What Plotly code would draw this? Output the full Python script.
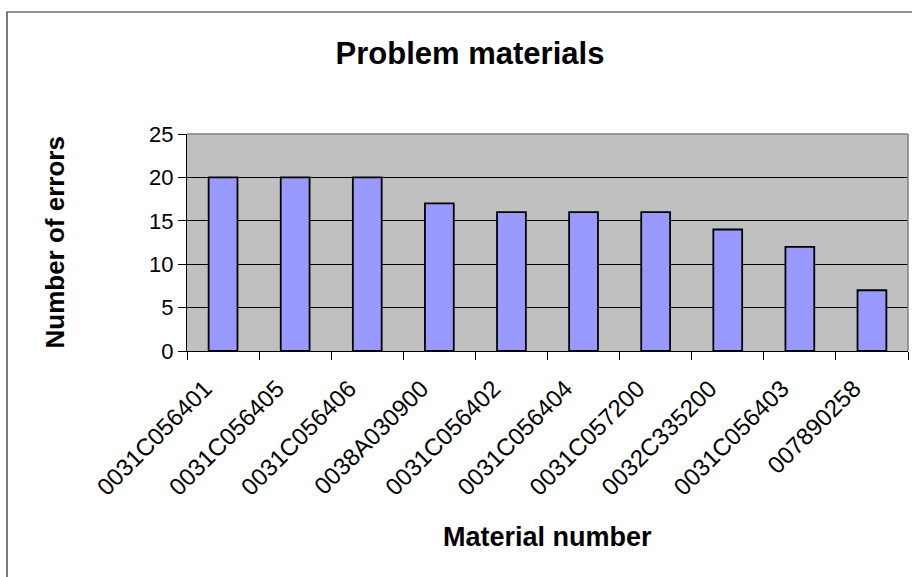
import plotly.graph_objects as go

materials = ["0031C056401", "0031C056405", "0031C056406", "0038A030900", "0031C056402",
             "0031C056404", "0031C057200", "0032C335200", "0031C056403", "007890258"]
errors = [20, 20, 20, 17, 16, 16, 16, 14, 12, 7]
y_ticks = [0, 5, 10, 15, 20, 25]

W, H = 912, 577
L, R, T, B = 187, 4, 134, 226
pw = W - L - R
ph = H - T - B

FONT = "Liberation Sans, Arial, sans-serif"

fig = go.Figure(go.Bar(
    x=materials, y=errors,
    marker=dict(color="#9999FF", line=dict(color="black", width=1.8)),
    width=0.4,
))

fig.update_layout(
    width=W, height=H,
    margin=dict(l=L, r=R, t=T, b=B, autoexpand=False),
    paper_bgcolor="white",
    plot_bgcolor="#C0C0C0",
    showlegend=False,
    font=dict(family=FONT, color="black"),
    title=dict(text="<b>Problem materials</b>", font=dict(size=31, family=FONT),
               x=470 / W, xref="container", xanchor="center",
               y=1 - 53 / H, yref="container", yanchor="middle"),
    xaxis=dict(type="category", tickson="boundaries", ticks="outside", ticklen=8,
               tickcolor="black", tickwidth=1, showline=True, linecolor="black", linewidth=1,
               tickangle=-45, tickfont=dict(size=24, family=FONT), showgrid=False,
               ticklabelstandoff=13, ticklabelshift=-18,
               automargin=False),
    yaxis=dict(range=[0, 25], tickvals=y_ticks, ticks="outside", ticklen=8,
               tickcolor="black", tickwidth=1, showline=True, linecolor="black", linewidth=1,
               showgrid=True, gridcolor="black", gridwidth=1, zeroline=False,
               tickfont=dict(size=22, family=FONT), automargin=False),
    annotations=[
        dict(text="<b>Number of errors</b>", textangle=-90, showarrow=False,
             xref="paper", yref="paper", x=(54 - L) / pw, y=0.5,
             xanchor="center", yanchor="middle", font=dict(size=26, family=FONT)),
        dict(text="<b>Material number</b>", showarrow=False,
             xref="paper", yref="paper", x=0.5, y=-(537 - (T + ph)) / ph,
             xanchor="center", yanchor="middle", font=dict(size=27, family=FONT)),
    ],
    shapes=[
        # outer chart-area border
        dict(type="rect", xref="paper", yref="paper",
             x0=(7 - L) / pw, x1=(W + 30 - L) / pw,
             y0=-(H + 30 - T - ph) / ph, y1=(T + ph - 12) / ph,
             line=dict(color="#222222", width=1.2), layer="below"),
        # plot-area border (top and right)
        dict(type="line", xref="paper", yref="paper", x0=0, x1=1, y0=1, y1=1,
             line=dict(color="#808080", width=1.5), layer="above"),
        dict(type="line", xref="paper", yref="paper", x0=1, x1=1, y0=0, y1=1,
             line=dict(color="#808080", width=1.5), layer="above"),
    ],
)

fig.write_html("out.html", config={"displayModeBar": False},
               post_script="document.body.style.margin='0';document.body.style.overflow='hidden';")
